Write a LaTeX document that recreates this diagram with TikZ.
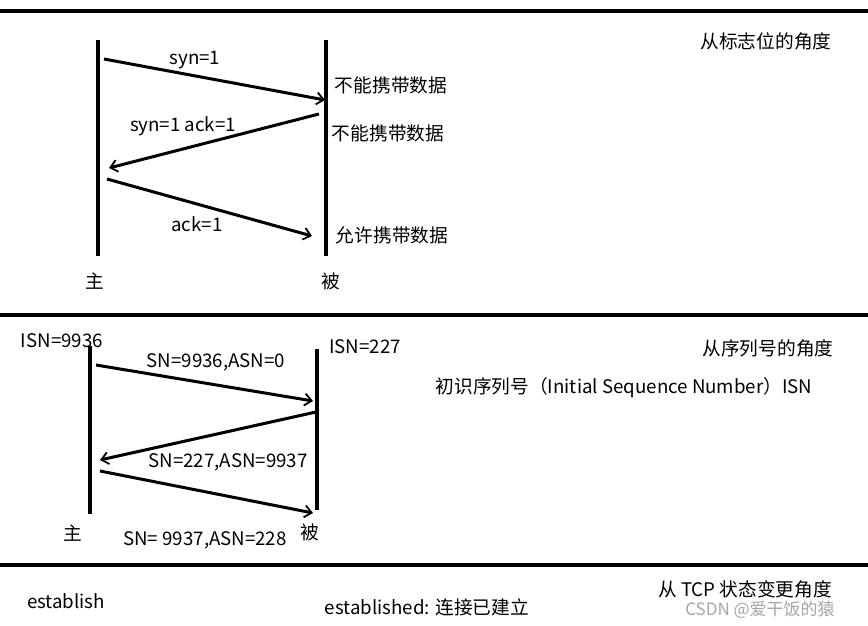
\documentclass[tikz,border=0pt]{standalone}
\usepackage{fontspec}
\setmainfont{Noto Sans CJK SC}
\usetikzlibrary{arrows.meta}
\begin{document}
\begin{tikzpicture}[x=1pt,y=-1pt,
  sep/.style={line width=3.5pt},
  life/.style={line width=3.2pt},
  msg/.style={line width=3pt,-{Straight Barb[length=7pt,width=12pt,line width=1.8pt]}},
  txt/.style={inner sep=0pt,font=\fontsize{18.7}{21}\selectfont},
  wm/.style={inner sep=0pt,font=\fontsize{17}{19}\selectfont,text=black!35}]
\useasboundingbox (0,0) rectangle (868,626);
\fill[white] (0,0) rectangle (868,626);
% separators
\coordinate (s1a) at (0,11); \coordinate (s1b) at (868,11);
\coordinate (s2a) at (0,315); \coordinate (s2b) at (868,315);
\coordinate (s3a) at (0,565); \coordinate (s3b) at (868,565);
\draw[sep] (s1a) -- (s1b);
\draw[sep] (s2a) -- (s2b);
\draw[sep] (s3a) -- (s3b);
% ---- section 1
\coordinate (L1t) at (98,40); \coordinate (L1b) at (98,256);
\coordinate (R1t) at (326,40); \coordinate (R1b) at (326,256);
\draw[life] (L1t) -- (L1b);
\draw[life] (R1t) -- (R1b);
\coordinate (a1s) at (104,59); \coordinate (a1e) at (325,100);
\coordinate (a2s) at (319,114); \coordinate (a2e) at (109,168);
\coordinate (a3s) at (107,179); \coordinate (a3e) at (312,236);
\draw[msg] (a1s) -- (a1e);
\draw[msg] (a2s) -- (a2e);
\draw[msg] (a3s) -- (a3e);
\node[txt] (t1) at (195,60) {syn=1};
\node[txt] (t2) at (183,126) {syn=1 ack=1};
\node[txt] (t3) at (197,224) {ack=1};
\node[txt] (n1) at (391,85) {不能携带数据};
\node[txt] (n2) at (388,133) {不能携带数据};
\node[txt] (n3) at (392,235) {允许携带数据};
\node[txt] (zhu1) at (95,281) {主};
\node[txt] (bei1) at (331,281) {被};
\node[txt] (h1) at (766,41) {从标志位的角度};
% ---- section 2
\coordinate (L2t) at (90,346); \coordinate (L2b) at (90,514);
\coordinate (R2t) at (317,349); \coordinate (R2b) at (317,510);
\draw[life] (L2t) -- (L2b);
\draw[life] (R2t) -- (R2b);
\coordinate (b1s) at (96,365); \coordinate (b1e) at (313,401);
\coordinate (b2s) at (316,412); \coordinate (b2e) at (100,460);
\coordinate (b3s) at (100,471); \coordinate (b3e) at (313,513);
\draw[msg] (b1s) -- (b1e);
\draw[msg] (b2s) -- (b2e);
\draw[msg] (b3s) -- (b3e);
\node[txt] (u1) at (216,362) {SN=9936,ASN=0};
\node[txt] (u2) at (228,462) {SN=227,ASN=9937};
\node[txt] (u3) at (205,540) {SN= 9937,ASN=228};
\node[txt] (isn1) at (62,341) {ISN=9936};
\node[txt] (isn2) at (365,347) {ISN=227};
\node[txt] (zhu2) at (73,533) {主};
\node[txt] (bei2) at (310,532) {被};
\node[txt] (h2) at (768,348) {从序列号的角度};
\node[txt] (isn) at (624,388) {初识序列号（Initial Sequence Number）ISN};
% ---- section 3
\node[txt] (est) at (66,601) {establish};
\node[txt] (est2) at (427,607) {established: 连接已建立};
\node[txt] (h3) at (745,589) {从 TCP 状态变更角度};
\node[wm] (wmk) at (760,610) {CSDN @爱干饭的猿};
\end{tikzpicture}
\end{document}
